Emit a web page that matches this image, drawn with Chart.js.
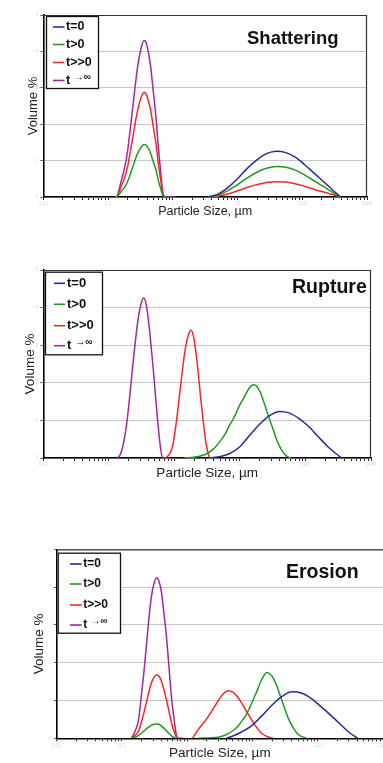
<!DOCTYPE html>
<html><head><meta charset="utf-8">
<script src="https://cdn.jsdelivr.net/npm/chart.js@4.4.0/dist/chart.umd.min.js"></script>
<style>
html,body{margin:0;padding:0;background:#fff;width:383px;height:763px;overflow:hidden;}
.box{position:absolute;left:0;width:383px;}
canvas{display:block;}
</style></head><body>
<div class="box" style="top:0px;height:225px"><canvas id="c1" width="383" height="225" style="width:383px;height:225px"></canvas></div>
<div class="box" style="top:250px;height:240px"><canvas id="c2" width="383" height="240" style="width:383px;height:240px"></canvas></div>
<div class="box" style="top:530px;height:233px"><canvas id="c3" width="383" height="233" style="width:383px;height:233px"></canvas></div>
<script>
// ---------- data ----------
const seriesLabels = ['t=0', 't>0', 't>>0', 't →∞'];
const xTickValues = [0.01, 0.1, 1, 10, 100, 1000];
const xTickLabels = ['0.01', '0.1', '1', '10', '100', '1000'];
const minorMultipliers = [1, 2, 3, 4, 5, 6, 7, 8, 9];
const yTickLabels = ['0', '1', '2', '3', '4', '5'];

// Shattering
const shatFineSize   = [0.13,0.14,0.16,0.18,0.2,0.22,0.25,0.28,0.3,0.33,0.36,0.38,0.4,0.45,0.5,0.55,0.6,0.65,0.7,0.75,1.1];
const shatFinePurple = [0,0.05,0.45,0.8,1.25,1.85,2.72,3.45,3.8,4.15,4.3,4.28,4.15,3.65,2.9,2.2,1.35,0.7,0.15,0,0];
const shatFineRed    = [0,0.03,0.3,0.53,0.83,1.23,1.81,2.3,2.53,2.77,2.87,2.85,2.77,2.43,1.93,1.47,0.9,0.47,0.1,0,null];
const shatFineGreen  = [0,0.02,0.15,0.27,0.42,0.62,0.91,1.16,1.27,1.39,1.44,1.43,1.39,1.22,0.97,0.74,0.45,0.23,0.05,0,null];
const shatCoarseSize  = [3.5,5,7,10,14,20,28,40,56,80,110,160,220,300,390];
const shatCoarseBlue  = [0,0.08,0.25,0.5,0.78,1.02,1.19,1.26,1.22,1.08,0.88,0.62,0.4,0.18,0];
const shatCoarseGreen = [0,0.06,0.17,0.34,0.52,0.68,0.79,0.84,0.82,0.73,0.6,0.42,0.27,0.12,0];
const shatCoarseRed   = [0,0.03,0.08,0.17,0.26,0.34,0.4,0.42,0.41,0.36,0.29,0.2,0.13,0.06,0];

// Rupture
const rupPurpleSize = [0.135,0.15,0.17,0.19,0.21,0.23,0.25,0.28,0.31,0.34,0.37,0.4,0.44,0.48,0.53,0.58,0.63,0.66,0.72];
const rupPurple     = [0,0.1,0.45,1.0,1.7,2.4,3.0,3.7,4.1,4.26,4.1,3.7,3.0,2.3,1.4,0.65,0.15,0,0];
const rupRedSize = [0.74,0.85,0.95,1.05,1.15,1.25,1.35,1.5,1.65,1.8,1.95,2.1,2.3,2.5,2.75,3.0,3.3,3.5,4.0];
const rupRed     = [0,0.12,0.35,0.85,1.4,1.95,2.45,3.0,3.3,3.4,3.25,2.9,2.3,1.65,1.0,0.45,0.1,0,0];
const rupGreenSize = [1.4,2,3,4,5,6,7,8,9,10,11.5,13,14.5,16,17.5,19,21,23,26,29,33,37,42,48,55,60];
const rupGreen     = [0,0.02,0.1,0.25,0.45,0.65,0.88,1.05,1.25,1.42,1.6,1.78,1.9,1.95,1.93,1.85,1.7,1.5,1.22,0.98,0.7,0.45,0.25,0.1,0.02,0];
const rupBlueSize = [3.5,5,7,10,14,20,28,40,56,80,110,160,220,300,360];
const rupBlue     = [0,0.04,0.12,0.3,0.6,0.9,1.12,1.24,1.2,1.05,0.85,0.55,0.3,0.1,0];

// Erosion
const eroFineSize   = [0.14,0.16,0.18,0.2,0.22,0.25,0.28,0.31,0.34,0.37,0.4,0.44,0.48,0.53,0.58,0.63,0.68,0.72,0.86];
const eroFinePurple = [0,0.2,0.5,1.2,1.85,2.9,3.7,4.1,4.25,4.15,3.9,3.3,2.7,1.8,1.0,0.5,0.1,0,0];
const eroFineRed    = [0,0.08,0.2,0.45,0.72,1.12,1.45,1.62,1.68,1.64,1.52,1.28,1.02,0.68,0.38,0.18,0.04,0,null];
const eroFineGreen  = [0,0.03,0.08,0.14,0.2,0.28,0.34,0.37,0.38,0.37,0.33,0.27,0.2,0.12,0.06,0.02,0,0,null];
const eroRedCoarseSize = [1.2,1.5,2,2.5,3,3.5,4.2,5,6,7,8.5,10,12,14,17,21];
const eroRedCoarse     = [0,0.25,0.52,0.78,1.0,1.16,1.26,1.22,1.08,0.9,0.65,0.45,0.25,0.12,0.04,0];
const eroGreenCoarseSize = [1.5,3,4,5,6,7,8,9,10,11.5,13,14.5,16.5,18.5,21,24,27,31,36,42,50,60,67];
const eroGreenCoarse     = [0,0.03,0.1,0.2,0.32,0.48,0.62,0.8,0.98,1.22,1.45,1.62,1.74,1.7,1.58,1.35,1.1,0.8,0.5,0.28,0.1,0.03,0];
const eroBlueSize = [4,5,7,10,14,20,28,40,56,80,110,160,220,300,410];
const eroBlue     = [0,0.06,0.18,0.35,0.6,0.88,1.1,1.23,1.2,1.05,0.85,0.6,0.38,0.16,0];

// ---------- styling ----------
const FONT = "'Liberation Sans', Arial, Helvetica, sans-serif";
const COLORS = ['#2a2a9c', '#1f9a1f', '#ff2424', '#9b2aa3'];

function pts(sizes, vals) { return sizes.map((s, i) => ({x: s, y: vals[i]})); }
function joinSegs(segs) {
  const out = [];
  segs.forEach((s, k) => {
    if (k > 0) out.push({x: s[0].x, y: null});
    out.push(...s);
  });
  return out;
}

const boxLegend = {
  id: 'boxLegend',
  afterDraw(chart, args, o) {
    if (!o || !o.rows) return;
    const ctx = chart.ctx;
    ctx.save();
    ctx.fillStyle = '#fff';
    ctx.fillRect(o.x, o.y, o.w, o.h);
    ctx.strokeStyle = '#111';
    ctx.lineWidth = 1.3;
    ctx.strokeRect(o.x + 0.5, o.y + 0.5, o.w, o.h);
    chart.data.datasets.forEach((ds, i) => {
      const y = o.rows[i];
      ctx.strokeStyle = ds.borderColor;
      ctx.lineWidth = 1.6;
      ctx.beginPath(); ctx.moveTo(o.lx0, y); ctx.lineTo(o.lx1, y); ctx.stroke();
      ctx.fillStyle = '#111';
      ctx.textBaseline = 'middle';
      ctx.textAlign = 'left';
      ctx.font = 'bold ' + o.size + 'px ' + FONT;
      const lab = ds.label;
      const sp = lab.indexOf(' ');
      if (sp < 0) {
        ctx.fillText(lab, o.tx, y);
      } else {
        const a = lab.slice(0, sp), b = lab.slice(sp + 1);
        ctx.fillText(a, o.tx, y);
        const wa = ctx.measureText(a + ' ').width;
        ctx.font = 'bold ' + (o.size * 0.8) + 'px ' + FONT;
        ctx.fillText(b, o.tx + wa, y - o.size * 0.28);
      }
    });
    ctx.restore();
  }
};

const frameAndTitle = {
  id: 'frameAndTitle',
  afterDraw(chart, args, o) {
    const ctx = chart.ctx, a = chart.chartArea;
    ctx.save();
    ctx.strokeStyle = '#333';
    ctx.lineWidth = 1.2;
    ctx.beginPath();
    ctx.moveTo(a.left, a.top + 0.5); ctx.lineTo(a.right, a.top + 0.5);
    if (o.rightBorder) { ctx.moveTo(a.right - 0.5, a.top); ctx.lineTo(a.right - 0.5, a.bottom); }
    ctx.stroke();
    ctx.fillStyle = '#111';
    ctx.font = 'bold ' + o.size + 'px ' + FONT;
    ctx.textBaseline = 'middle';
    ctx.textAlign = 'left';
    ctx.fillText(o.text, o.x, o.y);
    ctx.restore();
  }
};

function makeChart(id, c) {
  const datasets = c.series.map((segs, i) => ({
    label: seriesLabels[i],
    data: joinSegs(segs),
    borderColor: COLORS[i],
    backgroundColor: COLORS[i],
    borderWidth: 1.5,
    pointRadius: 0,
    fill: false,
    spanGaps: false,
    cubicInterpolationMode: 'monotone'
  }));
  const xLH = c.xTitleSize * 1.2, yLH = c.yTitleSize * 1.2;
  return new Chart(document.getElementById(id), {
    type: 'line',
    data: {datasets},
    options: {
      responsive: false,
      animation: false,
      devicePixelRatio: 1,
      layout: {padding: {top: c.top, right: c.right, bottom: 0, left: 0}},
      plugins: {
        legend: {display: false},
        tooltip: {enabled: false},
        boxLegend: c.legend,
        frameAndTitle: c.title
      },
      scales: {
        x: {
          type: 'logarithmic',
          min: 0.01, max: 1000,
          afterBuildTicks(scale) {
            const t = [];
            xTickValues.forEach((d, k) => {
              if (k === xTickValues.length - 1) { t.push({value: d}); return; }
              minorMultipliers.forEach(m => t.push({value: +(d * m).toPrecision(6)}));
            });
            scale.ticks = t;
          },
          afterFit(scale) { scale.height = c.xH; scale.paddingLeft = 0; scale.paddingRight = 0; },
          ticks: {
            autoSkip: false, maxRotation: 0, padding: 1,
            color: '#d6d6ea', font: {family: FONT, size: 5},
            callback(v) {
              const k = xTickValues.findIndex(d => Math.abs(d - v) < d * 1e-6);
              return k >= 0 ? xTickLabels[k] : '';
            }
          },
          grid: {display: true, drawOnChartArea: false, drawTicks: true, tickLength: 3, color: '#222'},
          border: {display: true, color: '#000', width: 1.6},
          title: {
            display: true, text: 'Particle Size, µm', color: '#222',
            font: {family: FONT, size: c.xTitleSize, lineHeight: 1.2},
            padding: {top: 0, bottom: c.H - c.xTitleCenter - xLH / 2}
          }
        },
        y: {
          type: 'linear',
          min: 0, max: 5,
          afterFit(scale) { scale.width = c.yW; scale.paddingTop = 0; scale.paddingBottom = 0; },
          ticks: {
            stepSize: 1, padding: 2,
            color: '#dcd6ea', font: {family: FONT, size: 5},
            callback(v) { return yTickLabels[Math.round(v)]; }
          },
          grid: {color: '#c6c6c6', lineWidth: 1, drawTicks: true, tickLength: 3, tickColor: '#666'},
          border: {display: true, color: '#000', width: 1.6},
          title: {
            display: true, text: 'Volume %', color: '#222',
            font: {family: FONT, size: c.yTitleSize, lineHeight: 1.2},
            padding: {top: c.yTitleCenter - yLH / 2, bottom: 0}
          }
        }
      }
    },
    plugins: [frameAndTitle, boxLegend]
  });
}

// Shattering
makeChart('c1', {
  H: 225, top: 15, right: 16, yW: 43.3, xH: 28,
  xTitleSize: 12.5, xTitleCenter: 212, yTitleSize: 13, yTitleCenter: 33,
  series: [
    [pts(shatCoarseSize, shatCoarseBlue)],
    [pts(shatFineSize, shatFineGreen), pts(shatCoarseSize, shatCoarseGreen)],
    [pts(shatFineSize, shatFineRed), pts(shatCoarseSize, shatCoarseRed)],
    [pts(shatFineSize, shatFinePurple)]
  ],
  legend: {x: 46, y: 16, w: 52, h: 72, rows: [27, 44.5, 62.5, 80.5], lx0: 53, lx1: 64.5, tx: 66, size: 12.5},
  title: {text: 'Shattering', x: 247, y: 39, size: 18.5, rightBorder: true}
});

// Rupture
makeChart('c2', {
  H: 240, top: 20, right: 12, yW: 43.3, xH: 32,
  xTitleSize: 13.5, xTitleCenter: 223, yTitleSize: 13.5, yTitleCenter: 30,
  series: [
    [pts(rupBlueSize, rupBlue)],
    [pts(rupGreenSize, rupGreen)],
    [pts(rupRedSize, rupRed)],
    [pts(rupPurpleSize, rupPurple)]
  ],
  legend: {x: 45, y: 21.7, w: 57, h: 82.6, rows: [33.3, 54.3, 75.7, 95.7], lx0: 54, lx1: 65, tx: 67, size: 13},
  title: {text: 'Rupture', x: 292, y: 38, size: 19.5, rightBorder: true}
});

// Erosion
makeChart('c3', {
  H: 233, top: 19.3, right: 0, yW: 56.7, xH: 24.7,
  xTitleSize: 13.5, xTitleCenter: 223, yTitleSize: 13.5, yTitleCenter: 39,
  series: [
    [pts(eroBlueSize, eroBlue)],
    [pts(eroFineSize, eroFineGreen), pts(eroGreenCoarseSize, eroGreenCoarse)],
    [pts(eroFineSize, eroFineRed), pts(eroRedCoarseSize, eroRedCoarse)],
    [pts(eroFineSize, eroFinePurple)]
  ],
  legend: {x: 57.7, y: 22.7, w: 62.3, h: 80, rows: [34, 54, 75, 95], lx0: 70, lx1: 81.7, tx: 83.3, size: 12},
  title: {text: 'Erosion', x: 286, y: 43, size: 19.5, rightBorder: false}
});
</script>
</body></html>
